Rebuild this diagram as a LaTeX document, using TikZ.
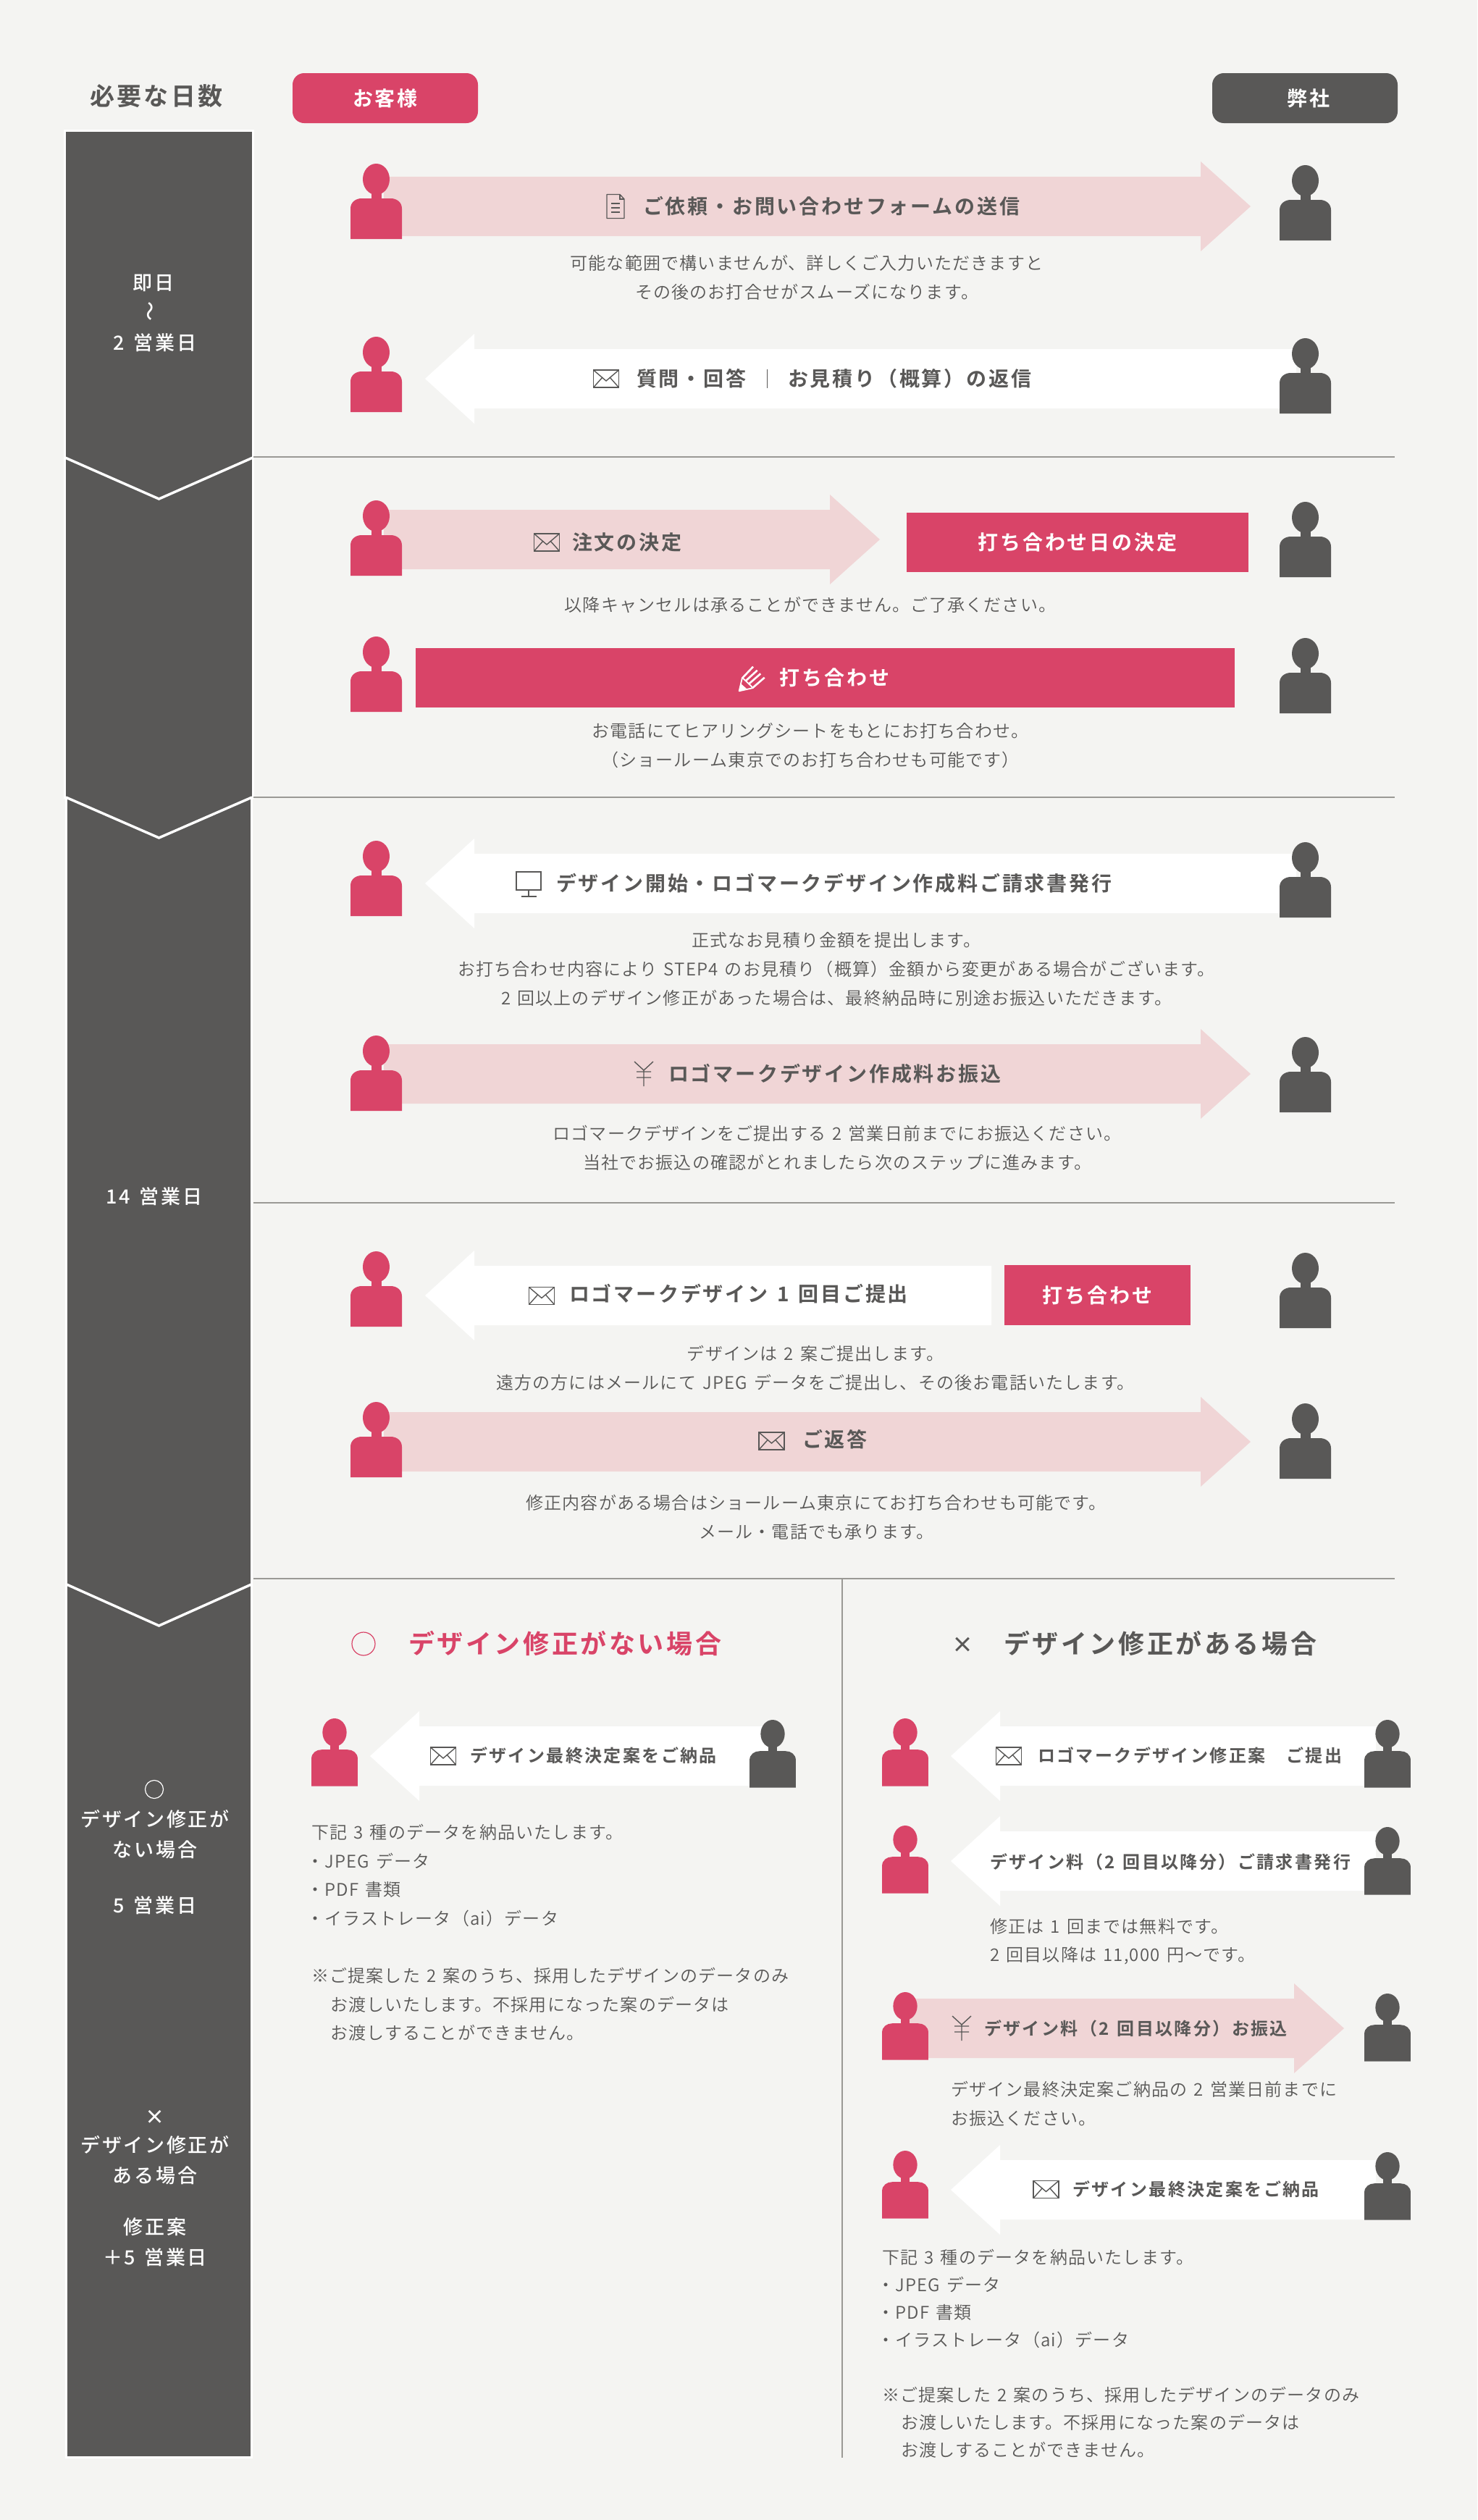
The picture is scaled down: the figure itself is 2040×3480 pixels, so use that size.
\documentclass[tikz,border=0pt]{standalone}
\usepackage{fontspec}
\setmainfont{Noto Sans CJK JP}
\newfontfamily\noteface[LetterSpace=5,WordSpace=1.4]{Noto Sans CJK JP DemiLight}
\newfontfamily\headface[LetterSpace=10,WordSpace=1.4]{Noto Sans CJK JP Bold}
\newfontfamily\barface[LetterSpace=10,WordSpace=1.4]{Noto Sans CJK JP Medium}
\usepackage{tikz}
\usetikzlibrary{positioning, calc}

\definecolor{pagegrey}{HTML}{F4F4F2}
\definecolor{brandred}{HTML}{D94468}
\definecolor{brandgrey}{HTML}{595857}
\definecolor{softred}{HTML}{F0D5D6}
\definecolor{ruleline}{HTML}{9A9995}

\newcommand{\listdot}{\hspace*{-7pt}・\hspace*{1pt}}
\newcommand{\arrowright}[4]{\fill[#4] (#1,#3-41) -- (#2-69,#3-41) -- (#2-69,#3-62) -- (#2,#3) -- (#2-69,#3+62) -- (#2-69,#3+41) -- (#1,#3+41) -- cycle;}
\newcommand{\arrowleft}[4]{\fill[#4] (#2,#3-41) -- (#1+68,#3-41) -- (#1+68,#3-62) -- (#1,#3) -- (#1+68,#3+62) -- (#1+68,#3+41) -- (#2,#3+41) -- cycle;}

\tikzset{
    person/.pic={
        \path[pic actions] (0,21.5) ellipse [x radius=18.5, y radius=21.5];
        \path[pic actions] (-7,36) rectangle (7,50);
        \path[pic actions] (-35.5,104) -- (-35.5,62) .. controls (-35.5,53) and (-28,48) .. (-20,48) -- (20,48) .. controls (28,48) and (35.5,53) .. (35.5,62) -- (35.5,104) -- cycle;
    },
    mail/.pic={
        \draw[brandgrey, line width=1.6pt] (-17.5,-12) rectangle (17.5,12);
        \draw[brandgrey, line width=1.4pt] (-17.5,-12) -- (0,3) -- (17.5,-12);
        \draw[brandgrey, line width=1.4pt] (-17.5,12) -- (-5,-2) (17.5,12) -- (5,-2);
    },
    sheet/.pic={
        \draw[brandgrey, line width=1.4pt, line join=round] (-12,-16.5) -- (6,-16.5) -- (12,-10) -- (12,16.5) -- (-12,16.5) -- cycle;
        \draw[brandgrey, line width=1.2pt] (6,-16.5) -- (6,-10) -- (12,-10);
        \foreach \q in {-4,2,8} {\draw[brandgrey, line width=1.2pt] (-6,\q) -- (6,\q);}
    },
    yen/.pic={
        \draw[brandgrey, line width=1.4pt] (-13,-17) -- (0,-5) -- (13,-17) (0,-5) -- (0,17) (-10,-3) -- (10,-3) (-10,5) -- (10,5);
    },
    screen/.pic={
        \draw[brandgrey, line width=1.5pt] (-17,-17) rectangle (17,8);
        \draw[brandgrey, line width=1.5pt] (0,8) -- (0,17) (-10.5,17) -- (10.5,17);
    },
    pencil/.pic={
        \draw[white, line width=1.8pt, line join=round] (-18.3,17.3) -- (-14,-1.3) -- (1,13) -- cycle;
        \fill[white] (-18.3,17.3) -- (-16,7) -- (-8,14) -- cycle;
        \draw[white, line width=2.6pt] (-13.3,-1.3) -- (1,-16.3) (-9,3) -- (6.7,-11.3) (-4.7,7.3) -- (11.3,-6.7) (1,12.3) -- (16.7,-1.3);
    }
}

\begin{document}
\begin{tikzpicture}[
    x=1pt, y=-1pt,
    pill/.style={rounded corners=16pt, font=\fontsize{28}{28}\selectfont\headface, text=white, inner sep=0pt},
    filled/.style={fill=brandred, font=\fontsize{28}{28}\selectfont\headface, text=white, inner sep=0pt},
    bartext/.style={font=\fontsize{27}{42}\selectfont\barface, text=white, align=center, inner sep=0pt},
    arrowtext/.style={font=\fontsize{28}{28}\selectfont\headface, text=brandgrey, inner sep=0pt},
    smalltext/.style={font=\fontsize{24}{24}\selectfont\headface, text=brandgrey, inner sep=0pt},
    note/.style={font=\fontsize{24}{40}\selectfont\noteface, text=brandgrey, align=center, inner sep=0pt},
    listnote/.style={font=\fontsize{24}{39.6}\selectfont\noteface, text=brandgrey, align=left, anchor=north west, inner sep=0pt},
    tightnote/.style={listnote, font=\fontsize{24}{38}\selectfont\noteface},
    titletext/.style={font=\fontsize{36}{36}\selectfont\headface, inner sep=0pt},
    rule/.style={ruleline, line width=1.6pt}
]
    \useasboundingbox (0,0) rectangle (2040,3480);
    \fill[pagegrey] (0,0) rectangle (2040,3480);

    % days column
    \draw[fill=brandgrey, draw=white, line width=3pt] (89.5,180.5) -- (349.5,180.5) -- (349.5,1101) -- (347.5,1101) -- (347.5,3393) -- (91.5,3393) -- (91.5,1101) -- (89.5,1101) -- cycle;
    \draw[white, line width=3.5pt] (90,632) -- (219.5,689) -- (349,632);
    \draw[white, line width=3.5pt] (91,1101) -- (219.5,1157) -- (348,1101);
    \draw[white, line width=3.5pt] (92,2188) -- (219.5,2245) -- (347,2188);
    \node[font=\fontsize{34}{34}\selectfont\headface, text=brandgrey, inner sep=0pt] (dayshead) at (216,133) {必要な日数};
    \node[bartext] (today) at (212,391) {即日};
    \node[bartext, rotate=90] (tilde) at (210,430) {〜};
    \node[bartext] (twodays) at (214,473) {2 営業日};
    \node[bartext] (fourteen) at (213,1652) {14 営業日};
    \draw[white, line width=1.2pt] (213,2471) circle [radius=12.5];
    \node[bartext] (nofix) at (214,2533) {デザイン修正が\\ない場合};
    \node[bartext] (fivedays) at (214,2631) {5 営業日};
    \node[bartext, font=\fontsize{27}{27}\selectfont\headface] (crossmark) at (213.5,2924) {×};
    \node[bartext] (hasfix) at (214,2983) {デザイン修正が\\ある場合};
    \node[bartext] (fixplan) at (214,3096) {修正案\\＋5 営業日};

    % column heads
    \node[pill, fill=brandred, minimum width=256pt, minimum height=69pt] (client) at (532,135.5) {お客様};
    \node[pill, fill=brandgrey, minimum width=256pt, minimum height=69pt] (company) at (1802,135.5) {\hspace{10pt}弊社};

    % section rules
    \foreach \y in {631,1101,1661,2180} {
        \draw[rule] (350,\y) -- (1926,\y);
    }
    \draw[rule] (1163,2180) -- (1163,3394);

    % block arrows
    \arrowright{530}{1727}{285}{softred}
    \arrowleft{587}{1790}{523}{white}
    \arrowright{530}{1215}{745}{softred}
    \arrowleft{587}{1790}{1220}{white}
    \arrowright{530}{1727}{1483}{softred}
    \arrowleft{587}{1369}{1789}{white}
    \arrowright{530}{1727}{1991}{softred}
    \arrowleft{511}{1060}{2425}{white}
    \arrowleft{1313}{1900}{2425}{white}
    \arrowleft{1313}{1900}{2570}{white}
    \arrowright{1255}{1856}{2801}{softred}
    \arrowleft{1313}{1900}{3024}{white}

    % people of the main rows
    \foreach \y/\n in {226/a,465/b,691/c,879/d,1161/e,1430/f,1728/g,1936/h} {
        \pic[fill=brandred] (left\n) at (519.5,\y) {person};
        \pic[fill=brandgrey] (right\n) at (1802.5,\y+2) {person};
    }
    % people of the lower rows
    \pic[fill=brandred, scale=.9] (leftk) at (462,2373) {person};
    \pic[fill=brandgrey, scale=.9] (rightk) at (1067,2375) {person};
    \foreach \y/\n in {2373/m,2521/n,2751/p,2970/q} {
        \pic[fill=brandred, scale=.9] (left\n) at (1250,\y) {person};
        \pic[fill=brandgrey, scale=.9] (right\n) at (1916,\y+2) {person};
    }

    % row one
    \pic at (850,285) {sheet};
    \node[arrowtext, anchor=west] (request) at (888,285) {ご依頼・お問い合わせフォームの送信};
    \node[note] (requestnote) at (1114,383) {可能な範囲で構いませんが、詳しくご入力いただきますと\\その後のお打合せがスムーズになります。};
    % row two
    \pic at (837,523) {mail};
    \node[arrowtext, anchor=west] (answer) at (879,523) {質問・回答};
    \draw[brandgrey, line width=1pt] (1059,510) -- (1059,536);
    \node[arrowtext, anchor=west] (estimate) at (1088,523) {お見積り（概算）の返信};
    % row three
    \pic at (755,749) {mail};
    \node[arrowtext, anchor=west] (order) at (790,749) {注文の決定};
    \node[filled, minimum width=472pt, minimum height=82pt] (dateset) at (1488,749) {打ち合わせ日の決定};
    \node[note] (ordernote) at (1119,835) {以降キャンセルは承ることができません。ご了承ください。};
    % row four
    \node[filled, minimum width=1131pt, minimum height=82pt] (meeting) at (1139.5,936) {\hspace{26pt}打ち合わせ};
    \pic at (1039,937) {pencil};
    \node[note] (meetingnote) at (1119,1030) {お電話にてヒアリングシートをもとにお打ち合わせ。\\（ショールーム東京でのお打ち合わせも可能です）};
    % row five
    \pic at (730,1221) {screen};
    \node[arrowtext, anchor=west] (start) at (768,1220) {デザイン開始・ロゴマークデザイン作成料ご請求書発行};
    \node[note] (startnote) at (1155,1338) {正式なお見積り金額を提出します。\\お打ち合わせ内容により STEP4 のお見積り（概算）金額から変更がある場合がございます。\\2 回以上のデザイン修正があった場合は、最終納品時に別途お振込いただきます。};
    % row six
    \pic at (889,1483) {yen};
    \node[arrowtext, anchor=west] (payment) at (923,1483) {ロゴマークデザイン作成料お振込};
    \node[note] (paymentnote) at (1156,1585) {ロゴマークデザインをご提出する 2 営業日前までにお振込ください。\\当社でお振込の確認がとれましたら次のステップに進みます。};
    % row seven
    \pic at (748,1789.5) {mail};
    \node[arrowtext, anchor=west] (first) at (786,1787) {ロゴマークデザイン 1 回目ご提出};
    \node[filled, minimum width=257pt, minimum height=83pt] (meetingtwo) at (1515.5,1788.5) {打ち合わせ};
    \node[note] (firstnote) at (1126,1889) {デザインは 2 案ご提出します。\\遠方の方にはメールにて JPEG データをご提出し、その後お電話いたします。};
    % row eight
    \pic at (1065.5,1990) {mail};
    \node[arrowtext, anchor=west] (reply) at (1108,1988) {ご返答};
    \node[note] (replynote) at (1127,2095) {修正内容がある場合はショールーム東京にてお打ち合わせも可能です。\\メール・電話でも承ります。};

    % case without changes
    \draw[brandred, line width=1.2pt] (502,2270) circle [radius=16];
    \node[titletext, text=brandred, anchor=west] (nocase) at (564,2270) {デザイン修正がない場合};
    \pic at (612,2425) {mail};
    \node[smalltext, anchor=west] (delivery) at (649,2424) {デザイン最終決定案をご納品};
    \node[listnote] (deliverynote) at (430,2519) {下記 3 種のデータを納品いたします。\\\listdot JPEG データ\\\listdot PDF 書類\\\listdot イラストレータ（ai）データ\\[39.6pt]※ご提案した 2 案のうち、採用したデザインのデータのみ\\\hspace*{26pt}お渡しいたします。不採用になった案のデータは\\\hspace*{26pt}お渡しすることができません。};

    % case with changes
    \node[titletext, text=brandgrey, font=\fontsize{30}{30}\selectfont\headface] (crosshead) at (1329,2272) {×};
    \node[titletext, text=brandgrey, anchor=west] (yescase) at (1386,2270) {デザイン修正がある場合};
    \pic at (1393,2425) {mail};
    \node[smalltext, anchor=west] (revision) at (1433,2424) {ロゴマークデザイン修正案　ご提出};
    \node[smalltext, anchor=west] (invoice) at (1367,2571) {デザイン料（2 回目以降分）ご請求書発行};
    \node[listnote] (invoicenote) at (1367,2649) {修正は 1 回までは無料です。\\2 回目以降は 11,000 円～です。};
    \pic at (1328,2801) {yen};
    \node[smalltext, anchor=west] (feepay) at (1359,2801) {デザイン料（2 回目以降分）お振込};
    \node[listnote] (feenote) at (1313,2874) {デザイン最終決定案ご納品の 2 営業日前までに\\お振込ください。};
    \pic at (1444.5,3023.5) {mail};
    \node[smalltext, anchor=west] (finaldelivery) at (1481,3023) {デザイン最終決定案をご納品};
    \node[tightnote] (finalnote) at (1218,3106) {下記 3 種のデータを納品いたします。\\\listdot JPEG データ\\\listdot PDF 書類\\\listdot イラストレータ（ai）データ\\[38pt]※ご提案した 2 案のうち、採用したデザインのデータのみ\\\hspace*{26pt}お渡しいたします。不採用になった案のデータは\\\hspace*{26pt}お渡しすることができません。};
\end{tikzpicture}
\end{document}
